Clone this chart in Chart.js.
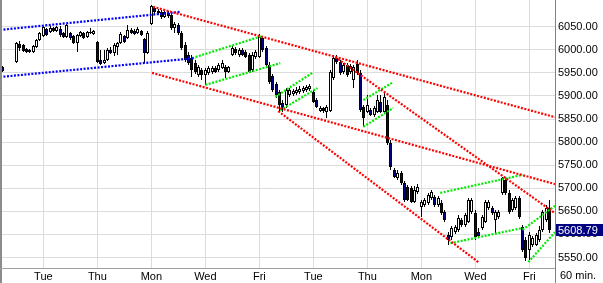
<!DOCTYPE html>
<html>
<head>
<meta charset="utf-8">
<script src="https://cdn.jsdelivr.net/npm/chart.js@4.4.0/dist/chart.umd.min.js"></script>
<style>
  html, body { margin: 0; padding: 0; background: #fff; }
  #wrap { position: relative; width: 603px; height: 283px; }
</style>
</head>
<body>
<div id="wrap"><canvas id="chart" width="603" height="283"></canvas></div>
<script>
// 60 min candles, one entry per hourly bar (null = no bar)
const opens = [
  null, 5963, null, null, null, 5974, 6013, 6010, 6002, 5999,
  5995, 6006, 6021, 6030, 6045, 6039, 6047, 6041, 6045, 6036,
  6028, 6036, 6030, 6015, 6030, 6036, 6028, 6036, 6034, 6017,
  5978, 5971, 5978, 5999, 5993, 6006, 6015, 6030, 6026, 6043,
  6041, 6036, 6041, 6023, 5993, 6056, 6091, 6084, 6082, 6071,
  6080, 6075, 6047, 6054, 6036, 6010, 5989, 5982, 5971, 5945,
  5956, 5945, 5950, 5952, 5961, 5956, 5961, 5963, 5952, 5989,
  6002, 5989, 5999, 5995, 5989, 5956, 5984, 5984, 6026, 6004,
  5967, 5943, 5926, 5909, 5885, 5880, 5902, 5904, 5906, 5909,
  5911, 5913, 5915, 5909, 5891, 5867, 5874, 5865, 5867, 5939,
  5982, 5974, 5952, 5967, 5952, 5935, 5969, 5950, 5876, 5865,
  5870, 5859, 5865, 5887, 5865, 5880, 5798, 5740, 5722, 5733,
  5711, 5703, 5701, 5670, 5692, 5659, 5664, 5668, 5679, 5681,
  5664, 5668, 5649, 5599, 5594, 5605, 5610, 5631, 5620, 5627,
  5649, 5646, 5605, 5614, 5627, 5657, 5657, 5631, 5638, 5690,
  5718, 5690, 5653, 5657, 5679, 5616, 5588, 5566, 5577, 5577,
  5588, 5610, 5631, 5657
];
const highs = [
  null, 5965, null, null, null, 6017, 6019, 6013, 6004, 6002,
  6010, 6023, 6039, 6051, 6047, 6051, 6049, 6051, 6051, 6039,
  6056, 6039, 6032, 6034, 6041, 6039, 6041, 6047, 6043, 6019,
  5999, 5999, 6004, 6006, 6015, 6017, 6039, 6032, 6054, 6047,
  6045, 6049, 6043, 6026, 6041, 6097, 6095, 6088, 6086, 6084,
  6084, 6077, 6060, 6058, 6041, 6017, 5995, 5989, 5978, 5967,
  5961, 5961, 5965, 5965, 5965, 5971, 5978, 5967, 5965, 6008,
  6006, 6004, 6004, 5999, 5993, 5995, 5999, 6034, 6028, 6008,
  5974, 5948, 5930, 5913, 5891, 5917, 5917, 5915, 5919, 5922,
  5922, 5924, 5926, 5913, 5896, 5878, 5876, 5880, 5956, 5989,
  5989, 5978, 5971, 5971, 5969, 5967, 5978, 5956, 5880, 5902,
  5874, 5878, 5902, 5902, 5909, 5891, 5805, 5744, 5740, 5737,
  5716, 5707, 5705, 5705, 5709, 5675, 5679, 5690, 5696, 5685,
  5683, 5675, 5653, 5605, 5618, 5620, 5642, 5636, 5646, 5679,
  5679, 5653, 5614, 5642, 5675, 5675, 5662, 5653, 5653, 5724,
  5724, 5696, 5679, 5683, 5683, 5620, 5594, 5605, 5597, 5603,
  5618, 5653, 5664, 5675
];
const lows = [
  null, 5952, null, null, null, 5971, 5997, 5995, 5993, 5993,
  5993, 6004, 6019, 6028, 6030, 6036, 6039, 6039, 6028, 6026,
  6026, 6021, 6013, 5995, 6028, 6023, 6026, 6034, 6032, 5971,
  5967, 5969, 5976, 5991, 5987, 5989, 6013, 6015, 6023, 6034,
  6032, 6034, 6030, 5971, 5991, 6054, 6077, 6075, 6067, 6069,
  6069, 6043, 6036, 6032, 5999, 5974, 5967, 5941, 5948, 5941,
  5935, 5924, 5945, 5948, 5950, 5952, 5958, 5939, 5950, 5987,
  5989, 5984, 5987, 5982, 5950, 5952, 5980, 5982, 5995, 5965,
  5926, 5909, 5896, 5867, 5865, 5874, 5898, 5900, 5902, 5904,
  5906, 5909, 5911, 5885, 5874, 5865, 5863, 5852, 5865, 5935,
  5969, 5945, 5948, 5941, 5948, 5917, 5945, 5865, 5833, 5863,
  5857, 5854, 5863, 5863, 5861, 5794, 5740, 5722, 5718, 5707,
  5670, 5672, 5668, 5668, 5688, 5638, 5659, 5664, 5675, 5659,
  5659, 5642, 5627, 5577, 5588, 5601, 5605, 5616, 5616, 5625,
  5644, 5588, 5592, 5610, 5625, 5653, 5642, 5603, 5633, 5685,
  5685, 5644, 5649, 5653, 5633, 5562, 5542, 5544, 5573, 5575,
  5584, 5605, 5627, 5603
];
const closes = [
  null, 5954, null, null, null, 6015, 6004, 5997, 5995, 5995,
  6008, 6021, 6036, 6049, 6032, 6047, 6041, 6049, 6032, 6028,
  6054, 6026, 6015, 6032, 6039, 6026, 6039, 6039, 6041, 5974,
  5969, 5978, 5999, 5993, 6010, 6015, 6034, 6017, 6043, 6036,
  6034, 6045, 6032, 5993, 6036, 6095, 6082, 6080, 6071, 6082,
  6073, 6047, 6056, 6036, 6004, 5978, 5971, 5956, 5952, 5963,
  5945, 5956, 5961, 5961, 5952, 5967, 5971, 5952, 5963, 6004,
  5993, 5999, 5989, 5984, 5952, 5989, 5995, 6028, 5999, 5967,
  5930, 5913, 5902, 5880, 5874, 5913, 5913, 5911, 5913, 5915,
  5917, 5919, 5922, 5887, 5876, 5874, 5867, 5876, 5952, 5982,
  5974, 5950, 5967, 5945, 5965, 5963, 5950, 5870, 5852, 5880,
  5859, 5874, 5891, 5865, 5898, 5798, 5746, 5724, 5733, 5711,
  5675, 5675, 5670, 5696, 5703, 5670, 5675, 5685, 5692, 5664,
  5679, 5646, 5631, 5588, 5614, 5616, 5636, 5620, 5642, 5675,
  5675, 5594, 5597, 5638, 5670, 5670, 5646, 5649, 5649, 5722,
  5690, 5649, 5675, 5679, 5638, 5566, 5549, 5599, 5592, 5599,
  5610, 5649, 5657, 5608.79
];

// bar index of the first bar of each labelled day
const dayTicks = [13, 29, 45, 61, 77, 93, 109, 125, 141, 157];
const dayLabels = ['Tue', 'Thu', 'Mon', 'Wed', 'Fri', 'Tue', 'Thu', 'Mon', 'Wed', 'Fri'];
const priceTicks = [5550, 5600, 5650, 5700, 5750, 5800, 5850, 5900, 5950, 6000, 6050];
const lastPrice = 5608.79;

// trend lines: [barFrom, priceFrom, barTo, priceTo]
const redLines = [
  [45.5, 6093, 164.6, 5854],
  [45.2, 5950, 164.6, 5709],
  [82.6, 5867, 141.9, 5540],
  [99.5, 5984, 164.6, 5646]
];
const blueLines = [
  [0.15, 6043, 53.5, 6082],
  [0.15, 5941, 58, 5982]
];
const greenLines = [
  [57.1, 5982, 77.9, 6030],
  [61, 5924, 83.2, 5971],
  [81.7, 5898, 92.7, 5950],
  [83.2, 5869, 94.2, 5917],
  [107.8, 5891, 116.7, 5930],
  [107.8, 5833, 116.7, 5874],
  [130.6, 5690, 155, 5729],
  [133.6, 5581, 155, 5614],
  [155, 5610, 164.6, 5662],
  [156.7, 5540, 164.6, 5605]
];

const bodies = [];
const wicks = [];
const bodyColors = [];
for (let i = 0; i < opens.length; i++) {
  if (opens[i] === null) continue;
  bodies.push({ x: i, y: [opens[i], closes[i]] });
  wicks.push({ x: i, y: [lows[i], highs[i]] });
  bodyColors.push(closes[i] >= opens[i] ? '#ffffff' : '#000080');
}

function trendSets(lines, color) {
  return lines.map(l => ({
    type: 'line',
    data: [{ x: l[0], y: l[1] }, { x: l[2], y: l[3] }],
    borderColor: color,
    borderWidth: 2.2,
    borderDash: [2, 1.5],
    pointRadius: 0,
    fill: false,
    tension: 0,
    order: 0
  }));
}

const FONT = { family: 'Arial, "Liberation Sans", sans-serif', size: 11 };

// snap candle rectangles to whole pixels so they stay crisp
const snapPlugin = {
  id: 'snap',
  afterDatasetsUpdate(chart) {
    chart.data.datasets.forEach((ds, di) => {
      const meta = chart.getDatasetMeta(di);
      if (meta.type !== 'bar') return;
      meta.data.forEach(el => {
        el.x = Math.floor(el.x) + 0.5;
        el.y = Math.round(el.y);
        el.base = Math.round(el.base);
      });
    });
  }
};

const framePlugin = {
  id: 'frame',
  afterDraw(chart) {
    const ctx = chart.ctx;
    const a = chart.chartArea;
    const H = chart.height, W = chart.width;
    ctx.save();
    ctx.fillStyle = '#8c8c8c';
    ctx.fillRect(0, 0, 2, H);
    ctx.fillStyle = '#a0a0a0';
    ctx.fillRect(0, a.bottom, a.right, 1);
    ctx.fillStyle = '#808080';
    ctx.fillRect(a.right, 0, 1, H);

    // last price box
    const py = Math.round(chart.scales.y.getPixelForValue(lastPrice));
    ctx.fillStyle = '#000080';
    ctx.fillRect(a.right + 1, py - 6, W - a.right - 1, 12);
    ctx.fillStyle = '#ffffff';
    ctx.font = FONT.size + 'px ' + FONT.family;
    ctx.textBaseline = 'middle';
    ctx.textAlign = 'left';
    ctx.fillText(lastPrice.toFixed(2), a.right + 3, py + 0.5);

    ctx.fillStyle = '#000000';
    ctx.fillText('60 min.', a.right + 5, 276);
    ctx.restore();
  }
};

new Chart(document.getElementById('chart'), {
  type: 'bar',
  data: {
    datasets: [
      ...trendSets(redLines, 'rgb(255,0,0)'),
      ...trendSets(blueLines, 'rgb(0,0,255)'),
      ...trendSets(greenLines, 'rgb(0,235,0)'),
      {
        data: bodies,
        backgroundColor: bodyColors,
        borderColor: '#000000',
        borderWidth: 1,
        borderSkipped: false,
        barThickness: 3,
        minBarLength: 1,
        inflateAmount: 0,
        grouped: false,
        order: 1
      },
      {
        data: wicks,
        backgroundColor: '#000000',
        borderWidth: 0,
        barThickness: 1,
        inflateAmount: 0,
        grouped: false,
        order: 2
      }
    ]
  },
  options: {
    responsive: false,
    animation: false,
    layout: { padding: 0 },
    plugins: { legend: { display: false }, tooltip: { enabled: false } },
    scales: {
      x: {
        type: 'linear',
        min: 0.15,
        max: 164.6,
        bounds: 'data',
        offset: false,
        afterBuildTicks: s => { s.ticks = dayTicks.map(v => ({ value: v })); },
        afterFit: s => { s.height = 15; s.paddingLeft = 0; s.paddingRight = 0; },
        grid: { color: '#dcdcdc', drawTicks: false, offset: false },
        border: { display: false },
        ticks: {
          color: '#000000',
          font: FONT,
          padding: 2,
          maxRotation: 0,
          autoSkip: false,
          callback: (v, i) => dayLabels[i]
        }
      },
      y: {
        position: 'right',
        min: 5527.3,
        max: 6107.8,
        afterBuildTicks: s => { s.ticks = priceTicks.map(v => ({ value: v })); },
        afterFit: s => { s.width = 48; s.paddingTop = 0; s.paddingBottom = 0; },
        grid: { color: '#dcdcdc', drawTicks: false },
        border: { display: false },
        ticks: {
          color: '#000000',
          font: FONT,
          padding: 3,
          crossAlign: 'near',
          callback: v => Number(v).toFixed(2)
        }
      }
    }
  },
  plugins: [snapPlugin, framePlugin]
});
</script>
</body>
</html>
